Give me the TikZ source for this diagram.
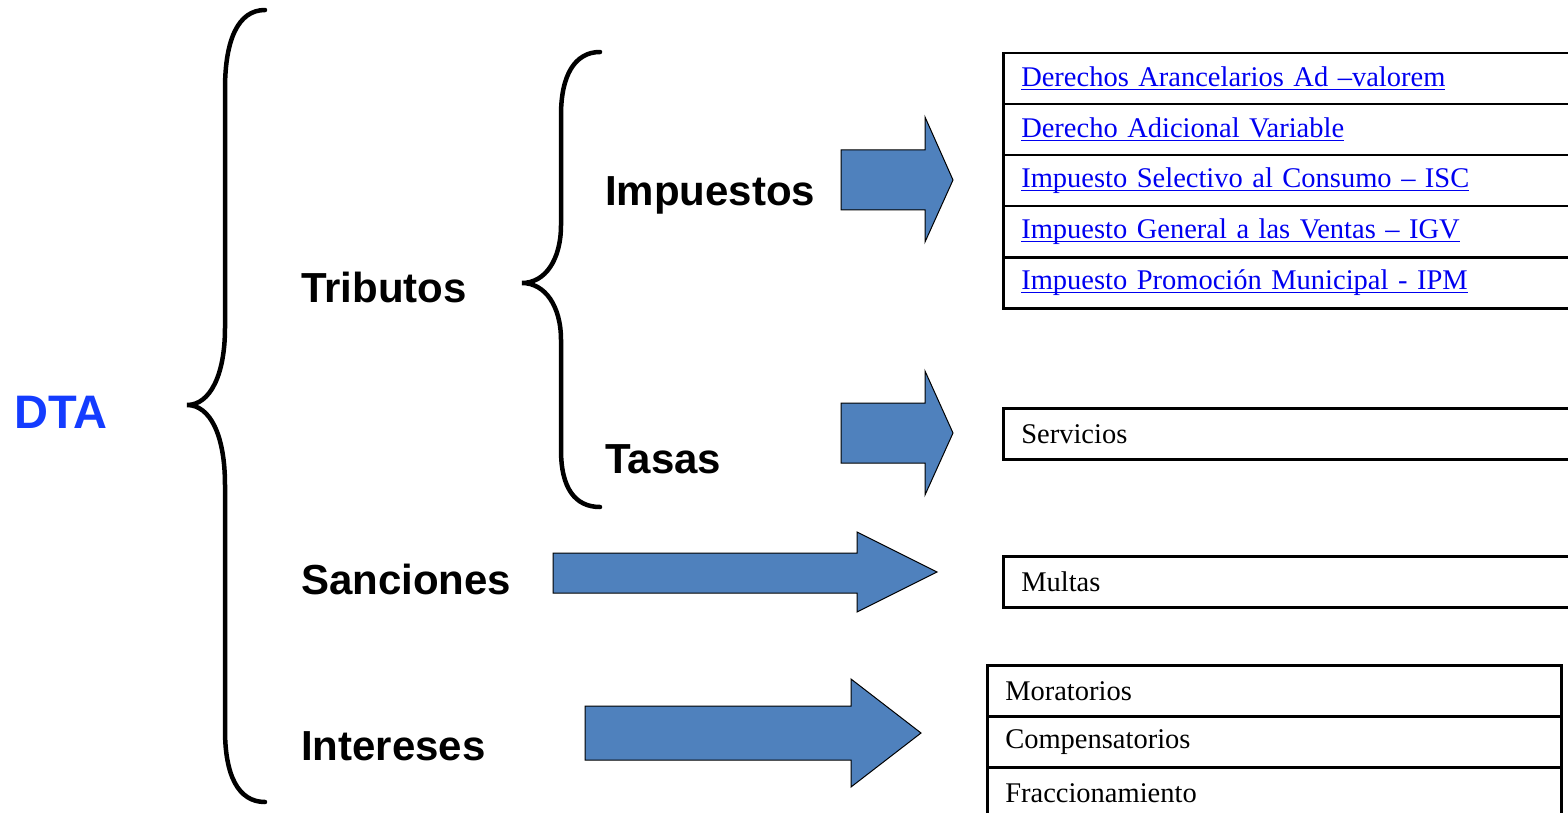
\documentclass[tikz,border=0pt]{standalone}
\usepackage{fontspec}
\setmainfont{Liberation Serif}
\newfontfamily\labelfont{Liberation Sans}
\usepackage{xcolor}
\definecolor{dtablue}{RGB}{20,60,255}
\definecolor{linkblue}{RGB}{0,0,240}
\definecolor{arrowblue}{RGB}{79,129,189}
\newsavebox{\linkbox}
\newcommand{\linkul}[1]{\sbox{\linkbox}{#1}\rlap{\rule[-3.5pt]{\wd\linkbox}{1.4pt}}\usebox{\linkbox}}
\usepackage{tikz}
\usetikzlibrary{positioning}

\begin{document}
\begin{tikzpicture}[
    x=1pt, y=-1pt,
    node distance=-2.5pt,
    concept/.style={anchor=base west, inner sep=0pt, font=\labelfont\bfseries\fontsize{42}{48}\selectfont},
    rowbox/.style={rectangle, draw, line width=2.5pt, minimum height=51pt, text width=540pt, inner xsep=18pt, inner ysep=0pt, align=left, font=\fontsize{28.5}{32}\selectfont},
    link/.style={rowbox, text=linkblue},
    brace/.style={line width=4.5pt, line cap=round},
    bigarrow/.style={draw=black, line width=1pt, fill=arrowblue, line join=miter}
]
\useasboundingbox (0,0) rectangle (1568,813);

% Concepts
\node[concept, text=dtablue, font=\labelfont\bfseries\fontsize{47}{52}\selectfont] (dta) at (14,428) {DTA};
\node[concept] (trib) at (301,302) {Tributos};
\node[concept] (imp) at (605,205) {Impuestos};
\node[concept] (tasas) at (605,473) {Tasas};
\node[concept] (sanc) at (301,594) {Sanciones};
\node[concept] (inter) at (301,760) {Intereses};

% Braces
\draw[brace] (265,10) .. controls (238,10) and (225,40) .. (225,89) -- (225,328)
    .. controls (225,375) and (210,405) .. (187,405)
    .. controls (210,405) and (225,435) .. (225,485) -- (225,730)
    .. controls (225,775) and (238,802) .. (265,802);
\draw[brace] (600,52) .. controls (575,52) and (561,75) .. (561,115) -- (561,225)
    .. controls (561,260) and (545,283) .. (522,283)
    .. controls (545,283) and (561,306) .. (561,340) -- (561,450)
    .. controls (561,488) and (575,507) .. (600,507);

% Arrows
\draw[bigarrow] (841,150) -- (925,150) -- (925,117) -- (953,180) -- (925,242) -- (925,210) -- (841,210) -- cycle;
\draw[bigarrow] (841,403) -- (925,403) -- (925,371) -- (953,433) -- (925,495) -- (925,463) -- (841,463) -- cycle;
\draw[bigarrow] (553,553) -- (857,553) -- (857,532) -- (937,572) -- (857,612) -- (857,593) -- (553,593) -- cycle;
\draw[bigarrow] (585,706) -- (851,706) -- (851,679) -- (921,733) -- (851,787) -- (851,760) -- (585,760) -- cycle;

% Impuestos table
\node[link, anchor=north west] (dam) at (1002,52) {\linkul{Derechos Arancelarios Ad –valorem}};
\node[link, below=of dam] (dav) {\linkul{Derecho Adicional Variable}};
\node[link, below=of dav] (isc) {\linkul{Impuesto Selectivo al Consumo – ISC}};
\node[link, below=of isc] (igv) {\linkul{Impuesto General a las Ventas – IGV}};
\node[link, below=of igv] (ipm) {\linkul{Impuesto Promoción Municipal - IPM}};

% Tasas and Sanciones
\node[rowbox, anchor=north west] (serv) at (1002,407) {Servicios};
\node[rowbox, anchor=north west] (mult) at (1002,555) {Multas};

% Intereses table
\node[rowbox, anchor=north west, text width=538pt] (mor) at (986,664) {Moratorios};
\node[rowbox, below=of mor, text width=538pt] (comp) {Compensatorios};
\node[rowbox, below=of comp, text width=538pt] (frac) {Fraccionamiento};
\end{tikzpicture}
\end{document}
